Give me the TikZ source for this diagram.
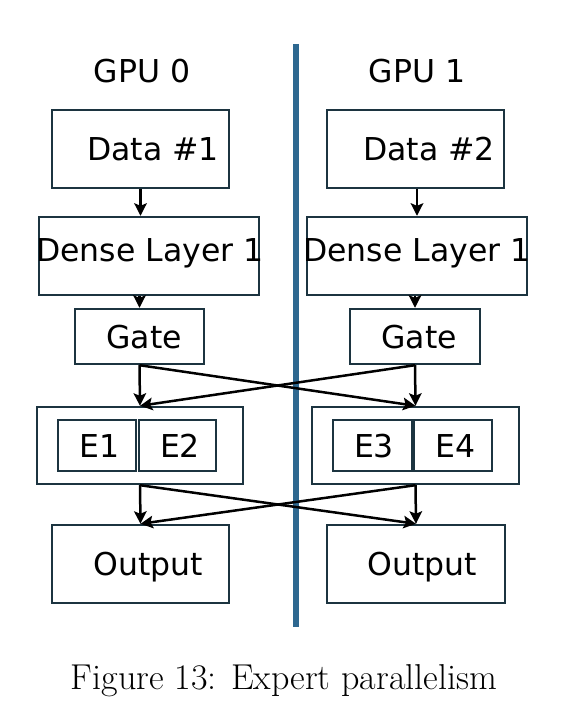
\documentclass[tikz,border=0pt]{standalone}
\usepackage{fontspec}
\newfontfamily\dv{DejaVu Sans}
\usetikzlibrary{arrows.meta}
\definecolor{boxline}{HTML}{1C3440}
\definecolor{sepblue}{HTML}{2E6890}
\begin{document}
\begin{tikzpicture}[x=1pt,y=-1pt,
  lbl/.style={font=\dv\fontsize{31.5}{38}\selectfont, inner sep=0pt},
  bx/.style={draw=boxline, line width=2.4pt, inner sep=0pt, font=\dv\fontsize{31.5}{38}\selectfont, text height=23pt, text depth=0pt},
  arr/.style={line width=2.5pt, -{Stealth[length=12.5pt,width=12.5pt,inset=2.5pt]}},
]
\useasboundingbox (0,0) rectangle (566,714);
% separator
\coordinate (septop) at (296,44);
\coordinate (sepbot) at (296,627);
\draw[sepblue, line width=5.5pt] (septop) -- (sepbot);
% headers
\node[lbl, text height=23pt, text depth=0pt] (gpu0) at (142,71) {GPU 0};
\node[lbl, text height=23pt, text depth=0pt] (gpu1) at (417,71) {GPU 1};
% data
\node[bx, minimum width=177pt, minimum height=78pt] (data1) at (140.5,149) {\hspace*{25pt}Data \#1};
\node[bx, minimum width=177pt, minimum height=78pt] (data2) at (415.5,149) {\hspace*{27pt}Data \#2};
% dense
\node[bx, minimum width=220pt, minimum height=78pt, text depth=12pt] (dense1) at (149,256) {\makebox[200pt][c]{\hspace*{2pt}Dense Layer 1}};
\node[bx, minimum width=220pt, minimum height=78pt, text depth=12pt] (dense2) at (417,256) {\makebox[200pt][c]{Dense Layer 1}};
% gates
\node[bx, minimum width=129pt, minimum height=55pt] (gate1) at (139.5,336.5) {\hspace*{9pt}Gate};
\node[bx, minimum width=130pt, minimum height=55pt] (gate2) at (415,336.5) {\hspace*{8pt}Gate};
% expert groups
\node[bx, minimum width=206pt, minimum height=77pt] (exp1) at (140,445.5) {};
\node[bx, minimum width=207pt, minimum height=77pt] (exp2) at (415.5,445.5) {};
\node[bx, minimum width=78pt, minimum height=51pt] (e1) at (97,445.5) {\hspace*{5pt}E1};
\node[bx, minimum width=77pt, minimum height=51pt] (e2) at (177.5,445.5) {\hspace*{5pt}E2};
\node[bx, minimum width=79pt, minimum height=51pt] (e3) at (372.5,445.5) {\hspace*{3pt}E3};
\node[bx, minimum width=78pt, minimum height=51pt] (e4) at (453,445.5) {\hspace*{5pt}E4};
% outputs
\node[bx, minimum width=177pt, minimum height=78pt] (out1) at (140.5,564) {\hspace*{15pt}Output};
\node[bx, minimum width=178pt, minimum height=78pt] (out2) at (416,564) {\hspace*{12pt}Output};
% arrows
\draw[arr] (data1.south) -- (data1.south |- dense1.north);
\draw[arr] (data2.south -| dense2.north) -- (dense2.north);
\draw[arr] (gate1.north |- dense1.south) -- (gate1.north);
\draw[arr] (gate2.north |- dense2.south) -- (gate2.north);
\draw[arr] (gate1.south) -- (exp1.north);
\draw[arr] (gate1.south) -- (exp2.north);
\draw[arr] (gate2.south) -- (exp2.north);
\draw[arr] (gate2.south) -- (exp1.north);
\draw[arr] (exp1.south) -- (out1.north);
\draw[arr] (exp1.south) -- (out2.north);
\draw[arr] (exp2.south) -- (out2.north);
\draw[arr] (exp2.south) -- (out1.north);
% caption
\node[inner sep=0pt, font=\fontsize{36}{43}\selectfont, text height=24.6pt, text depth=0pt] (cap) at (284,677) {Figure 13: Expert parallelism};
\end{tikzpicture}
\end{document}
